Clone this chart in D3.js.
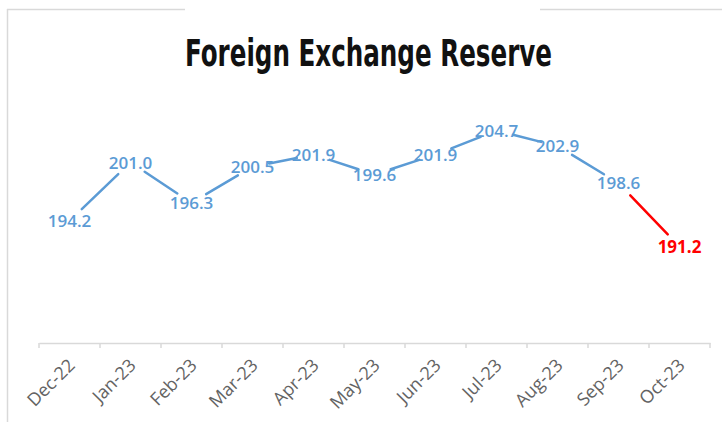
<!DOCTYPE html>
<html>
<head>
<meta charset="utf-8">
<script src="https://cdn.jsdelivr.net/npm/d3@7.9.0/dist/d3.min.js"></script>
<style>
  html, body { margin: 0; padding: 0; background: #fff; }
  svg { display: block; }
</style>
</head>
<body>
<svg id="chart" width="722" height="422"></svg>
<script>
const months = ['Dec-22', 'Jan-23', 'Feb-23', 'Mar-23', 'Apr-23', 'May-23',
  'Jun-23', 'Jul-23', 'Aug-23', 'Sep-23', 'Oct-23'];
const reserves = [194.2, 201.0, 196.3, 200.5, 201.9, 199.6, 201.9, 204.7, 202.9, 198.6, 191.2];
const yDomain = [180, 210];

const title = 'Foreign Exchange Reserve';
const blue = '#5b9bd5';
const red = '#ff0000';

const svg = d3.select('#chart');

// frame lines (partly hidden behind title)
const frame = svg.append('g').attr('stroke', '#d9d9d9').attr('stroke-width', 1.5).attr('fill', 'none');
frame.append('path').attr('d', 'M7,9.5H185');
frame.append('path').attr('d', 'M540,9.5H722');
frame.append('path').attr('d', 'M7.5,9V422');

svg.append('text')
  .attr('x', 185)
  .attr('y', 66)
  .attr('textLength', 367)
  .attr('lengthAdjust', 'spacingAndGlyphs')
  .style('font-family', '"Liberation Sans Narrow", "DejaVu Sans Condensed", sans-serif')
  .style('font-weight', 'bold')
  .style('font-size', '37px')
  .attr('fill', '#111')
  .text(title);

const x = d3.scaleBand().domain(months).range([39, 710]);
const y = d3.scaleLinear().domain(yDomain).range([343, 85]);

// x axis
const axis = svg.append('g')
  .attr('transform', 'translate(0,343)')
  .call(d3.axisBottom(x).tickSize(0).tickFormat(''));
axis.select('.domain').attr('stroke', '#d9d9d9').attr('stroke-width', 1.5);

const bounds = months.map((m) => x(m)).concat([x.range()[1]]);
svg.append('g').selectAll('line')
  .data(bounds)
  .join('line')
  .attr('x1', (d) => d).attr('x2', (d) => d)
  .attr('y1', 343).attr('y2', 348)
  .attr('stroke', '#d9d9d9').attr('stroke-width', 1.5);

svg.append('g').selectAll('text')
  .data(months)
  .join('text')
  .attr('transform', (d) => `translate(${x(d) + x.bandwidth() / 2 + 2},362) rotate(-45)`)
  .attr('text-anchor', 'end')
  .attr('dy', '0.35em')
  .style('font-family', '"Open Sans", sans-serif')
  .style('font-size', '18px')
  .attr('fill', '#636363')
  .text((d) => d);

// line segments, trimmed around labels
const pts = reserves.map((v, i) => ({ x: x(months[i]) + x.bandwidth() / 2, y: y(v) }));
const trim = 17;
const segs = d3.pairs(pts).map(([a, b], i) => {
  const dx = b.x - a.x, dy = b.y - a.y;
  const len = Math.hypot(dx, dy);
  const ux = dx / len, uy = dy / len;
  return {
    x1: a.x + ux * trim, y1: a.y + uy * trim,
    x2: b.x - ux * trim, y2: b.y - uy * trim,
    last: i === pts.length - 2
  };
});

svg.append('g').selectAll('line')
  .data(segs)
  .join('line')
  .attr('x1', (d) => d.x1).attr('y1', (d) => d.y1)
  .attr('x2', (d) => d.x2).attr('y2', (d) => d.y2)
  .attr('stroke', (d) => d.last ? red : blue)
  .attr('stroke-width', 2.5)
  .attr('stroke-linecap', 'round');

const lastIdx = reserves.length - 1;
svg.append('g').selectAll('text')
  .data(reserves)
  .join('text')
  .attr('x', (d, i) => pts[i].x)
  .attr('y', (d, i) => pts[i].y)
  .attr('dy', '0.36em')
  .attr('text-anchor', 'middle')
  .style('font-family', '"Open Sans", sans-serif')
  .style('font-weight', (d, i) => i === lastIdx ? 700 : 600)
  .style('font-size', '17px')
  .attr('fill', (d, i) => i === lastIdx ? red : blue)
  .text((d) => d.toFixed(1));
</script>
</body>
</html>
